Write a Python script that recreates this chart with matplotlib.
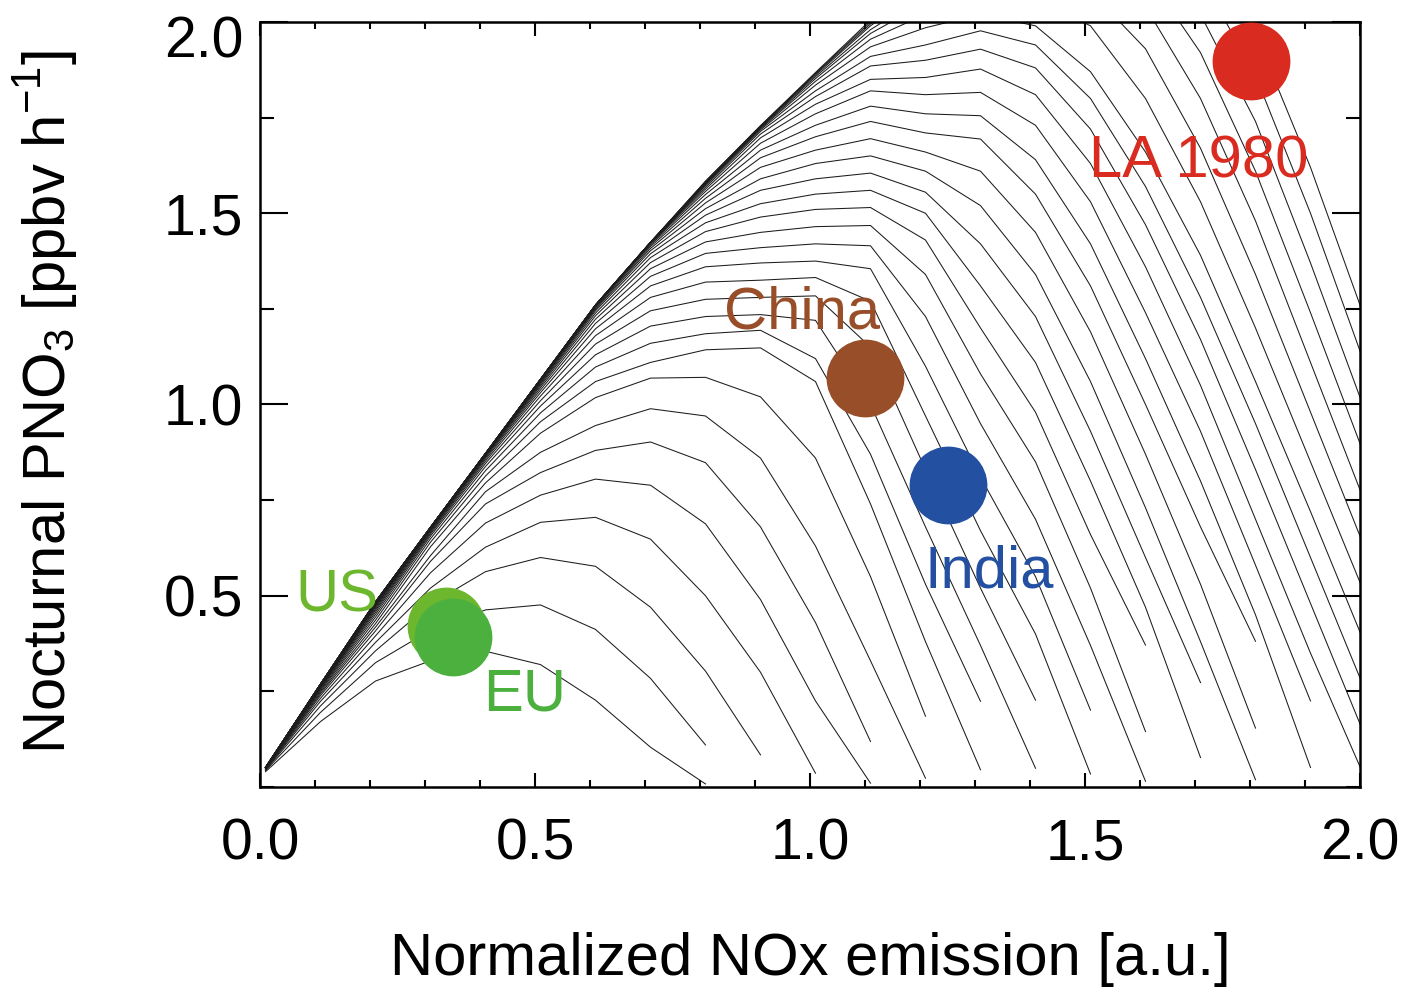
import matplotlib
matplotlib.use("Agg")
import matplotlib.pyplot as plt
from matplotlib.ticker import MultipleLocator, FormatStrFormatter
from matplotlib.transforms import ScaledTranslation

plt.rcParams['font.family'] = ['Liberation Sans', 'DejaVu Sans']
plt.rcParams['mathtext.fontset'] = 'custom'
plt.rcParams['mathtext.rm'] = 'Liberation Sans'

# x nodes of every curve (normalized NOx emission)
nox_nodes = [0.01, 0.11, 0.21, 0.31, 0.41, 0.51, 0.61, 0.71, 0.81, 0.91, 1.01,
             1.11, 1.21, 1.31, 1.41, 1.51, 1.61, 1.71, 1.81, 1.91, 2.01]

# nocturnal PNO3 curves (ppbv/h), one list per curve, read at the nodes above
c01 = [0.040, 0.171, 0.277, 0.330, 0.355, 0.320, 0.227, 0.104, 0.008]
c02 = [0.043, 0.195, 0.325, 0.410, 0.463, 0.476, 0.412, 0.284, 0.110]
c03 = [0.045, 0.212, 0.356, 0.478, 0.563, 0.600, 0.577, 0.470, 0.303, 0.084]
c04 = [0.046, 0.224, 0.378, 0.520, 0.627, 0.692, 0.705, 0.648, 0.500, 0.300, 0.036]
c05 = [0.047, 0.232, 0.395, 0.560, 0.690, 0.763, 0.805, 0.789, 0.688, 0.490, 0.225, 0.010]
c06 = [0.048, 0.239, 0.408, 0.590, 0.740, 0.822, 0.880, 0.902, 0.848, 0.680, 0.430, 0.119]
c07 = [0.049, 0.244, 0.418, 0.605, 0.772, 0.875, 0.945, 0.989, 0.970, 0.860, 0.630, 0.330, 0.023]
c08 = [0.050, 0.248, 0.427, 0.628, 0.795, 0.925, 1.018, 1.069, 1.071, 1.020, 0.860, 0.550, 0.185]
c09 = [0.051, 0.252, 0.436, 0.640, 0.813, 0.955, 1.060, 1.110, 1.143, 1.148, 1.060, 0.740, 0.380, 0.045]
c10 = [0.051, 0.255, 0.444, 0.649, 0.827, 0.978, 1.098, 1.160, 1.185, 1.194, 1.120, 0.870, 0.530, 0.224]
c11 = [0.051, 0.258, 0.451, 0.656, 0.838, 0.996, 1.130, 1.205, 1.230, 1.235, 1.220, 1.000, 0.680, 0.370, 0.049]
c12 = [0.051, 0.260, 0.457, 0.661, 0.846, 1.010, 1.158, 1.245, 1.275, 1.280, 1.284, 1.150, 0.830, 0.520, 0.227]
c13 = [0.051, 0.262, 0.462, 0.665, 0.852, 1.022, 1.180, 1.280, 1.320, 1.325, 1.332, 1.270, 0.970, 0.670, 0.400, 0.034]
c14 = [0.051, 0.263, 0.466, 0.668, 0.857, 1.031, 1.198, 1.310, 1.360, 1.370, 1.375, 1.355, 1.100, 0.810, 0.550, 0.201]
c15 = [0.051, 0.264, 0.470, 0.671, 0.861, 1.038, 1.212, 1.335, 1.395, 1.410, 1.420, 1.415, 1.230, 0.950, 0.700, 0.370, 0.015]
c16 = [0.051, 0.265, 0.473, 0.673, 0.864, 1.044, 1.223, 1.355, 1.425, 1.450, 1.465, 1.468, 1.340, 1.080, 0.850, 0.520, 0.145]
c17 = [0.051, 0.266, 0.475, 0.674, 0.866, 1.049, 1.232, 1.371, 1.452, 1.490, 1.510, 1.515, 1.430, 1.200, 0.980, 0.660, 0.371]
c18 = [0.051, 0.266, 0.477, 0.675, 0.868, 1.053, 1.239, 1.384, 1.475, 1.525, 1.550, 1.560, 1.500, 1.310, 1.110, 0.800, 0.470, 0.077]
c19 = [0.051, 0.267, 0.479, 0.676, 0.869, 1.056, 1.245, 1.394, 1.495, 1.560, 1.590, 1.605, 1.555, 1.420, 1.230, 0.930, 0.600, 0.273]
c20 = [0.051, 0.267, 0.480, 0.677, 0.870, 1.059, 1.249, 1.402, 1.512, 1.590, 1.630, 1.650, 1.610, 1.520, 1.340, 1.060, 0.730, 0.380, 0.019]
c21 = [0.051, 0.268, 0.481, 0.678, 0.871, 1.061, 1.252, 1.408, 1.527, 1.620, 1.665, 1.695, 1.660, 1.610, 1.450, 1.190, 0.870, 0.530, 0.154]
c22 = [0.051, 0.268, 0.482, 0.679, 0.872, 1.063, 1.255, 1.413, 1.539, 1.645, 1.700, 1.740, 1.710, 1.694, 1.550, 1.310, 1.000, 0.680, 0.381]
c23 = [0.051, 0.268, 0.483, 0.679, 0.872, 1.064, 1.257, 1.417, 1.549, 1.665, 1.730, 1.780, 1.760, 1.755, 1.640, 1.420, 1.120, 0.800, 0.450, 0.051]
c24 = [0.051, 0.269, 0.483, 0.679, 0.872, 1.065, 1.258, 1.420, 1.557, 1.683, 1.760, 1.820, 1.810, 1.816, 1.730, 1.530, 1.240, 0.930, 0.580, 0.225]
c25 = [0.051, 0.269, 0.484, 0.679, 0.872, 1.066, 1.259, 1.422, 1.563, 1.697, 1.785, 1.850, 1.855, 1.877, 1.810, 1.630, 1.360, 1.050, 0.700, 0.350, 0.020]
c26 = [0.051, 0.269, 0.484, 0.679, 0.872, 1.066, 1.260, 1.423, 1.568, 1.707, 1.805, 1.885, 1.900, 1.929, 1.880, 1.720, 1.470, 1.170, 0.830, 0.480, 0.130]
c27 = [0.051, 0.269, 0.484, 0.679, 0.872, 1.066, 1.260, 1.424, 1.572, 1.714, 1.820, 1.910, 1.940, 1.977, 1.940, 1.800, 1.570, 1.280, 0.950, 0.600, 0.250]
c28 = [0.051, 0.269, 0.484, 0.679, 0.872, 1.066, 1.260, 1.424, 1.575, 1.718, 1.835, 1.935, 1.985, 2.020, 1.990, 1.870, 1.660, 1.390, 1.060, 0.720, 0.370]
c29 = [0.051, 0.269, 0.484, 0.679, 0.872, 1.066, 1.260, 1.424, 1.577, 1.721, 1.845, 1.955, 2.020, 2.070, 2.060, 1.990, 1.800, 1.530, 1.200, 0.850, 0.500]
c30 = [0.051, 0.269, 0.484, 0.679, 0.872, 1.066, 1.260, 1.424, 1.579, 1.723, 1.852, 1.970, 2.050, 2.110, 2.130, 2.080, 1.930, 1.670, 1.340, 0.980, 0.620]
c31 = [0.051, 0.269, 0.484, 0.679, 0.872, 1.066, 1.260, 1.424, 1.580, 1.725, 1.857, 1.980, 2.070, 2.150, 2.190, 2.170, 2.040, 1.800, 1.480, 1.110, 0.740]
c32 = [0.051, 0.269, 0.484, 0.679, 0.872, 1.066, 1.260, 1.424, 1.581, 1.726, 1.861, 1.990, 2.090, 2.180, 2.240, 2.250, 2.130, 1.920, 1.610, 1.240, 0.860]
c33 = [0.051, 0.269, 0.484, 0.679, 0.872, 1.066, 1.260, 1.424, 1.582, 1.727, 1.864, 1.995, 2.100, 2.200, 2.280, 2.310, 2.240, 2.020, 1.740, 1.370, 0.980]
c34 = [0.051, 0.269, 0.484, 0.679, 0.872, 1.066, 1.260, 1.424, 1.583, 1.728, 1.866, 2.000, 2.110, 2.220, 2.310, 2.370, 2.330, 2.120, 1.860, 1.500, 1.100]
c35 = [0.051, 0.269, 0.484, 0.679, 0.872, 1.066, 1.260, 1.424, 1.584, 1.729, 1.868, 2.005, 2.120, 2.230, 2.330, 2.410, 2.420, 2.280, 1.970, 1.620, 1.220]

curves = [c01, c02, c03, c04, c05, c06, c07, c08, c09, c10, c11, c12, c13, c14,
          c15, c16, c17, c18, c19, c20, c21, c22, c23, c24, c25, c26, c27, c28,
          c29, c30, c31, c32, c33, c34, c35]

# regions: name, NOx, PNO3, label position, colour
region_names = ["US", "EU", "China", "India", "LA 1980"]
region_nox = [0.339, 0.351, 1.100, 1.251, 1.801]
region_pno3 = [0.420, 0.392, 1.069, 0.790, 1.897]
label_x = [0.064, 0.405, 0.843, 1.209, 1.507]
label_y = [0.458, 0.201, 1.200, 0.521, 1.594]
region_colors = ["#6cb72e", "#4cb03f", "#994e2a", "#2450a2", "#d92b1f"]

xticks = [0.0, 0.5, 1.0, 1.5, 2.0]
yticks = [0.5, 1.0, 1.5, 2.0]

fig = plt.figure(figsize=(14.05, 9.88), dpi=100)
ax = fig.add_axes([260 / 1405, 1 - 787 / 988, 1100 / 1405, 765 / 988])

for c in curves:
    ax.plot(nox_nodes[:len(c)], c, color="#1c1c1c", lw=0.75, zorder=2)

for name, xv, yv, lx, ly, col in zip(region_names, region_nox, region_pno3,
                                     label_x, label_y, region_colors):
    ax.plot([xv], [yv], marker="o", ms=56, color=col, mec="none", zorder=5,
            clip_on=False)
    ax.text(lx, ly, name, color=col, fontsize=43, ha="left", va="baseline",
            zorder=6)

ax.set_xlim(0.0, 2.0)
ax.set_ylim(0.0, 2.0)
ax.set_xticks(xticks)
ax.set_yticks(yticks)
ax.xaxis.set_minor_locator(MultipleLocator(0.1))
ax.yaxis.set_minor_locator(MultipleLocator(0.25))
ax.xaxis.set_major_formatter(FormatStrFormatter("%.1f"))
ax.yaxis.set_major_formatter(FormatStrFormatter("%.1f"))

ax.tick_params(which="both", direction="in", top=True, right=True, width=1.5,
               labelsize=41)
ax.tick_params(axis="x", which="major", length=10, pad=22)
ax.tick_params(axis="x", which="minor", length=5)
ax.tick_params(axis="y", which="major", length=20, pad=12)
ax.tick_params(axis="y", which="minor", length=10)
for s in ax.spines.values():
    s.set_linewidth(1.8)

# the top y label (2.0) sits a little lower than its tick in the original
ylabs = ax.get_yticklabels()
top_lab = ylabs[-1]
top_lab.set_transform(top_lab.get_transform() +
                      ScaledTranslation(0, -15 / 100, fig.dpi_scale_trans))

ax.set_xlabel("Normalized NOx emission [a.u.]", fontsize=43)
ax.set_ylabel(r"Nocturnal PNO$_\mathregular{3}$ [ppbv h$^\mathregular{-1}$]",
              fontsize=43)
ax.xaxis.set_label_coords(0.5, -0.189)
ax.yaxis.set_label_coords(-0.164, 0.503)

fig.savefig("out.png", dpi=100)
